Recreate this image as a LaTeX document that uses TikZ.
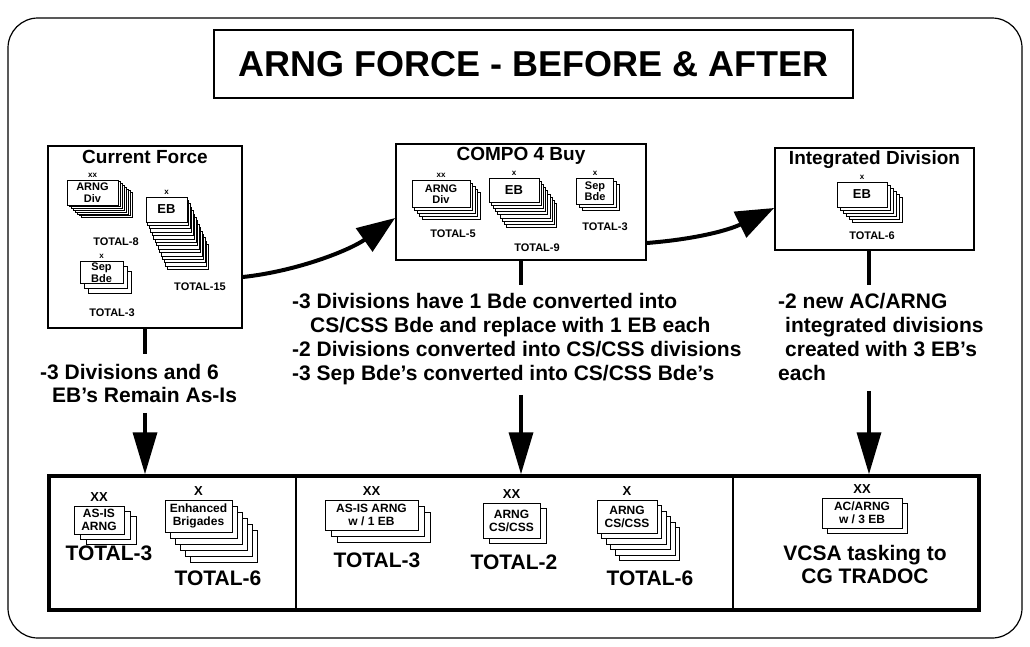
\documentclass[tikz,border=0pt]{standalone}
\usepackage{fontspec}
\setmainfont{Liberation Sans}
\usetikzlibrary{positioning}
\usetikzlibrary{calc}
\usetikzlibrary{arrows.meta}
\newcommand{\fsz}[1]{\fontsize{#1}{#1}\selectfont}
\tikzset{
        frame/.style={draw, line width=1.2pt, rounded corners=30pt},
        heading/.style={draw, line width=1.5pt, minimum width=639pt, minimum height=68pt,
          font=\bfseries\fsz{36}},
        panel/.style={draw, line width=1.8pt, inner sep=0pt},
        ptitle/.style={inner sep=0pt, font=\bfseries\fsz{19}},
        card/.style={rectangle, draw, fill=white, line width=1pt, inner sep=0pt, align=center,
          font=\bfseries\fontsize{11}{11.5}\selectfont},
        bigcard/.style={card, font=\bfseries\fontsize{12}{13}\selectfont},
        ech/.style={inner sep=0pt, font=\bfseries\fsz{8}},
        bigech/.style={inner sep=0pt, font=\bfseries\fsz{13}},
        tot/.style={inner sep=0pt, font=\bfseries\fsz{11}},
        bigtot/.style={inner sep=0pt, font=\bfseries\fsz{21}},
        note/.style={inner sep=0pt, align=left, font=\bfseries\fontsize{21}{24}\selectfont},
        stem/.style={line width=3.5pt},
        drop/.style={line width=3.5pt, -{Triangle[length=42pt, width=24pt]}},
        flow/.style={line width=4pt, -{Triangle[length=38pt, width=28pt]}},
        divider/.style={line width=2pt},
}
% stacked unit symbol: [size] name, centre, back layers, dx, dy, label
\newcommand{\unitstack}[7][]{%
  \foreach \k in {#4,...,1}{\node[card,#1] (#2-\k) at ($(#3)+({\k*#5},{\k*#6})$) {};}
  \node[card,#1] (#2) at (#3) {#7};
}

\begin{document}
\begin{tikzpicture}[x=1pt, y=-1pt]
      \useasboundingbox (0,0) rectangle (1030,646);
      \draw[frame] (8,18) rectangle (1022,638);
      \node[heading] (title) at (533.5,64) {ARNG FORCE - BEFORE \& AFTER};

      % CURRENT FORCE
      \node[panel, minimum width=194pt, minimum height=182pt] (cf) at (145,237) {};
      \node[ptitle, below=5pt of cf.north] (cf-title) {Current Force};
      \unitstack[minimum width=51pt, minimum height=25pt]{cfdiv}{92.5,192.5}{7}{2}{1.8}{ARNG\\Div}
      \unitstack[minimum width=41pt, minimum height=25pt, font=\bfseries\fsz{13}]{cfeb}{166.5,209.5}{14}{1.5}{3.4}{EB}
      \unitstack[minimum width=43pt, minimum height=22pt]{cfsep}{101.5,272.5}{2}{4}{5}{Sep\\Bde}
      \node[ech, above=2pt of cfdiv] (cfdiv-e) {xx};
      \node[ech, above=2pt of cfeb] (cfeb-e) {x};
      \node[ech, above=2pt of cfsep] (cfsep-e) {x};
      \node[tot] (cfdiv-t) at (116,242) {TOTAL-8};
      \node[tot] (cfeb-t) at (200,287) {TOTAL-15};
      \node[tot] (cfsep-t) at (112,313) {TOTAL-3};

      % COMPO 4 BUY
      \node[panel, minimum width=250pt, minimum height=116pt] (c4) at (521,202) {};
      \node[ptitle, below=4pt of c4.north] (c4-title) {COMPO 4 Buy};
      \unitstack[minimum width=58pt, minimum height=27pt]{c4div}{441,194}{4}{2.5}{3}{ARNG\\Div}
      \unitstack[minimum width=50pt, minimum height=24pt, font=\bfseries\fsz{13}]{c4eb}{514,190}{8}{2.2}{3.2}{EB}
      \unitstack[minimum width=37pt, minimum height=26pt]{c4sep}{595,191}{2}{3}{3}{Sep\\Bde}
      \node[ech, above=2pt of c4div] (c4div-e) {xx};
      \node[ech, above=2pt of c4eb] (c4eb-e) {x};
      \node[ech, above=2pt of c4sep] (c4sep-e) {x};
      \node[tot] (c4div-t) at (453,234) {TOTAL-5};
      \node[tot] (c4eb-t) at (537,248) {TOTAL-9};
      \node[tot] (c4sep-t) at (605,227) {TOTAL-3};

      % INTEGRATED DIVISION
      \node[panel, minimum width=199pt, minimum height=102pt] (id) at (874.5,199) {};
      \node[ptitle, below=3pt of id.north] (id-title) {Integrated Division};
      \unitstack[minimum width=50pt, minimum height=25pt, font=\bfseries\fsz{13}]{ideb}{862,194.5}{5}{3}{3}{EB}
      \node[ech, above=2pt of ideb] (ideb-e) {x};
      \node[tot] (ideb-t) at (872,236) {TOTAL-6};
      \coordinate (idaxis) at (869,250);

      % flow between the boxes
      \draw[flow] ([yshift=-40pt]cf.east) .. controls +(55,-6) and +(-45,32) .. ([yshift=-16pt]c4.west);
      \draw[flow] ([yshift=-41pt]c4.east) .. controls +(50,-4) and +(-45,22) .. ([yshift=-9pt]id.west);

      % NOTES
      \node[note, anchor=north west] (lefttxt) at (40,364)
        {-3 Divisions and 6\\[-1pt]\hspace*{12pt}EB’s Remain As-Is};
      \node[note, anchor=north west] (midtxt) at (292,293)
        {-3 Divisions have 1 Bde converted into\\
         \hspace*{18pt}CS/CSS Bde and replace with 1 EB each\\
         -2 Divisions converted into CS/CSS divisions\\
         -3 Sep Bde’s converted into CS/CSS Bde’s};
      \node[note, anchor=north west] (righttxt) at (778,293)
        {-2 new AC/ARNG\\
         \hspace*{7pt}integrated divisions\\
         \hspace*{7pt}created with 3 EB’s\\
         each};

      % RESULT
      \node[panel, line width=3.5pt, minimum width=930pt, minimum height=134pt] (result) at (514,543) {};
      \draw[divider] ($(result.north west)+(249,0)$) -- ($(result.south west)+(249,0)$);
      \draw[divider] ($(result.north west)+(686,0)$) -- ($(result.south west)+(686,0)$);
      \unitstack[bigcard, minimum width=50pt, minimum height=28pt]{b1div}{99,520}{2}{6}{5}{AS-IS\\ARNG}
      \unitstack[bigcard, minimum width=67pt, minimum height=32pt]{b1eb}{198.5,516}{5}{5}{6}{Enhanced\\Brigades}
      \unitstack[bigcard, minimum width=93pt, minimum height=30pt]{b2div}{371.5,515}{2}{6}{6}{AS-IS ARNG\\w / 1 EB}
      \unitstack[bigcard, minimum width=57pt, minimum height=35pt]{b2cs}{511.5,520.5}{1}{6}{5}{ARNG\\CS/CSS}
      \unitstack[bigcard, minimum width=60pt, minimum height=33pt]{b2bde}{627,516.5}{5}{4.5}{5.5}{ARNG\\CS/CSS}
      \unitstack[bigcard, minimum width=80pt, minimum height=30pt]{b3div}{862,513}{1}{5}{5}{AC/ARNG\\w / 3 EB}
      \node[bigech, above=4pt of b1div] (b1div-e) {XX};
      \node[bigech, above=4pt of b1eb] (b1eb-e) {X};
      \node[bigech, above=4pt of b2div] (b2div-e) {XX};
      \node[bigech, above=4pt of b2cs] (b2cs-e) {XX};
      \node[bigech, above=4pt of b2bde] (b2bde-e) {X};
      \node[bigech, above=4pt of b3div] (b3div-e) {XX};
      \node[bigtot] (b1div-t) at (109,553) {TOTAL-3};
      \node[bigtot] (b1eb-t) at (218,578) {TOTAL-6};
      \node[bigtot] (b2div-t) at (377,560) {TOTAL-3};
      \node[bigtot] (b2cs-t) at (514,562) {TOTAL-2};
      \node[bigtot] (b2bde-t) at (650,578) {TOTAL-6};
      \node[bigtot, align=center, font=\bfseries\fontsize{21}{23}\selectfont] (b3div-t) at (865,564)
        {VCSA tasking to\\CG TRADOC};

      % WIRING
      \draw[stem] (cf.south) -- ++(0,25);
      \draw[drop] ($(cf.south |- lefttxt.south)+(0,10)$) -- (cf.south |- result.north);
      \draw[stem] (c4.south) -- ++(0,24);
      \draw[drop] ($(c4.south |- midtxt.south)+(0,10)$) -- (c4.south |- result.north);
      \draw[stem] (idaxis) -- ++(0,35);
      \draw[drop] ($(idaxis |- righttxt.south)+(0,10)$) -- (idaxis |- result.north);
\end{tikzpicture}
\end{document}
